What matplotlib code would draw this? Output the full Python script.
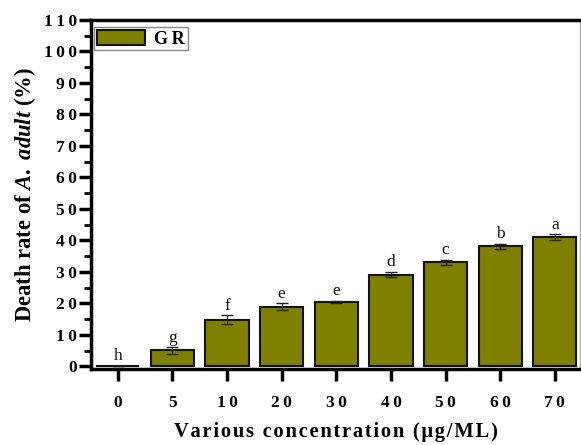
import matplotlib
matplotlib.use("Agg")
import matplotlib.pyplot as plt
import numpy as np
from matplotlib.ticker import MultipleLocator, FuncFormatter

# Data
concentrations = ["0", "5", "10", "20", "30", "40", "50", "60", "70"]
death_rate = [0.3, 5.1, 14.8, 19.0, 20.4, 29.2, 33.1, 38.1, 41.1]
std_err = [0.0, 1.0, 1.4, 1.0, 0.4, 0.9, 0.8, 0.9, 0.9]
groups = ["h", "g", "f", "e", "e", "d", "c", "b", "a"]

plt.rcParams["font.family"] = ["Liberation Serif", "DejaVu Serif"]
plt.rcParams["mathtext.fontset"] = "custom"
plt.rcParams["mathtext.it"] = "Liberation Serif:italic:bold"
plt.rcParams["mathtext.rm"] = "Liberation Serif:bold"

THIN = "\u2009"
HAIR = "\u200a"


def tracked(s, gap=THIN):
    """Insert a narrow space between characters for wider letter spacing."""
    return gap.join(s)


fig = plt.figure(figsize=(5.81, 4.45), dpi=100)
ax = fig.add_axes([91 / 581, 1 - 369 / 445, (580 - 91) / 581, (369 - 20) / 445])

olive = "#7f7f00"
x = np.arange(len(concentrations))
ax.bar(x, death_rate, width=0.79, color=olive, edgecolor="#111111",
       linewidth=1.5, label=tracked("GR"), zorder=2)
ax.errorbar(x, death_rate, yerr=std_err, fmt="none", ecolor="#222222",
            elinewidth=1.0, capsize=4, capthick=1.0, zorder=3)

for xi, v, e, g in zip(x, death_rate, std_err, groups):
    ax.text(xi, v + e + 0.5, g, ha="center", va="bottom", fontsize=12.5,
            color="#111111")

ax.set_xlim(-0.49, 8.46)
ax.set_ylim(-0.8, 110)
ax.set_xticks(x)
ax.set_xticklabels([tracked(c) for c in concentrations])
ax.yaxis.set_major_locator(MultipleLocator(10))
ax.yaxis.set_minor_locator(MultipleLocator(5))
ax.yaxis.set_major_formatter(FuncFormatter(lambda v, p: tracked(f"{v:.0f}")))

for lab in ax.get_xticklabels() + ax.get_yticklabels():
    lab.set_fontweight("bold")
    lab.set_fontsize(12.5)

ax.tick_params(axis="both", which="major", direction="out", length=8.5, width=2.5)
ax.tick_params(axis="y", which="minor", direction="out", length=5, width=2)
ax.tick_params(axis="x", pad=10)
ax.tick_params(axis="y", pad=1.5)

for side in ["left", "bottom", "top"]:
    ax.spines[side].set_linewidth(2.5)
    ax.spines[side].set_color("black")
ax.spines["right"].set_linewidth(1)
ax.spines["right"].set_color("#aaaaaa")

xlabel = (HAIR + " " + HAIR).join(tracked(w, HAIR)
                                  for w in ["Various", "concentration", "(μg/ML)"])
ax.set_xlabel(xlabel, fontsize=14.8, fontweight="bold", labelpad=8)
ax.set_ylabel(r"Death rate of $\mathit{A.\ adult}$ (%)", fontsize=16.3,
              fontweight="bold", labelpad=4)

leg = ax.legend(loc="upper left", bbox_to_anchor=(3 / 489, 1 - 7 / 349),
                fancybox=False, edgecolor="#888888", framealpha=1,
                borderpad=0.15, handlelength=2.7, handleheight=0.95,
                handletextpad=0.5, borderaxespad=0.0,
                prop={"weight": "bold", "size": 13})
leg.get_frame().set_linewidth(1.0)

fig.savefig("out.png", dpi=100)
